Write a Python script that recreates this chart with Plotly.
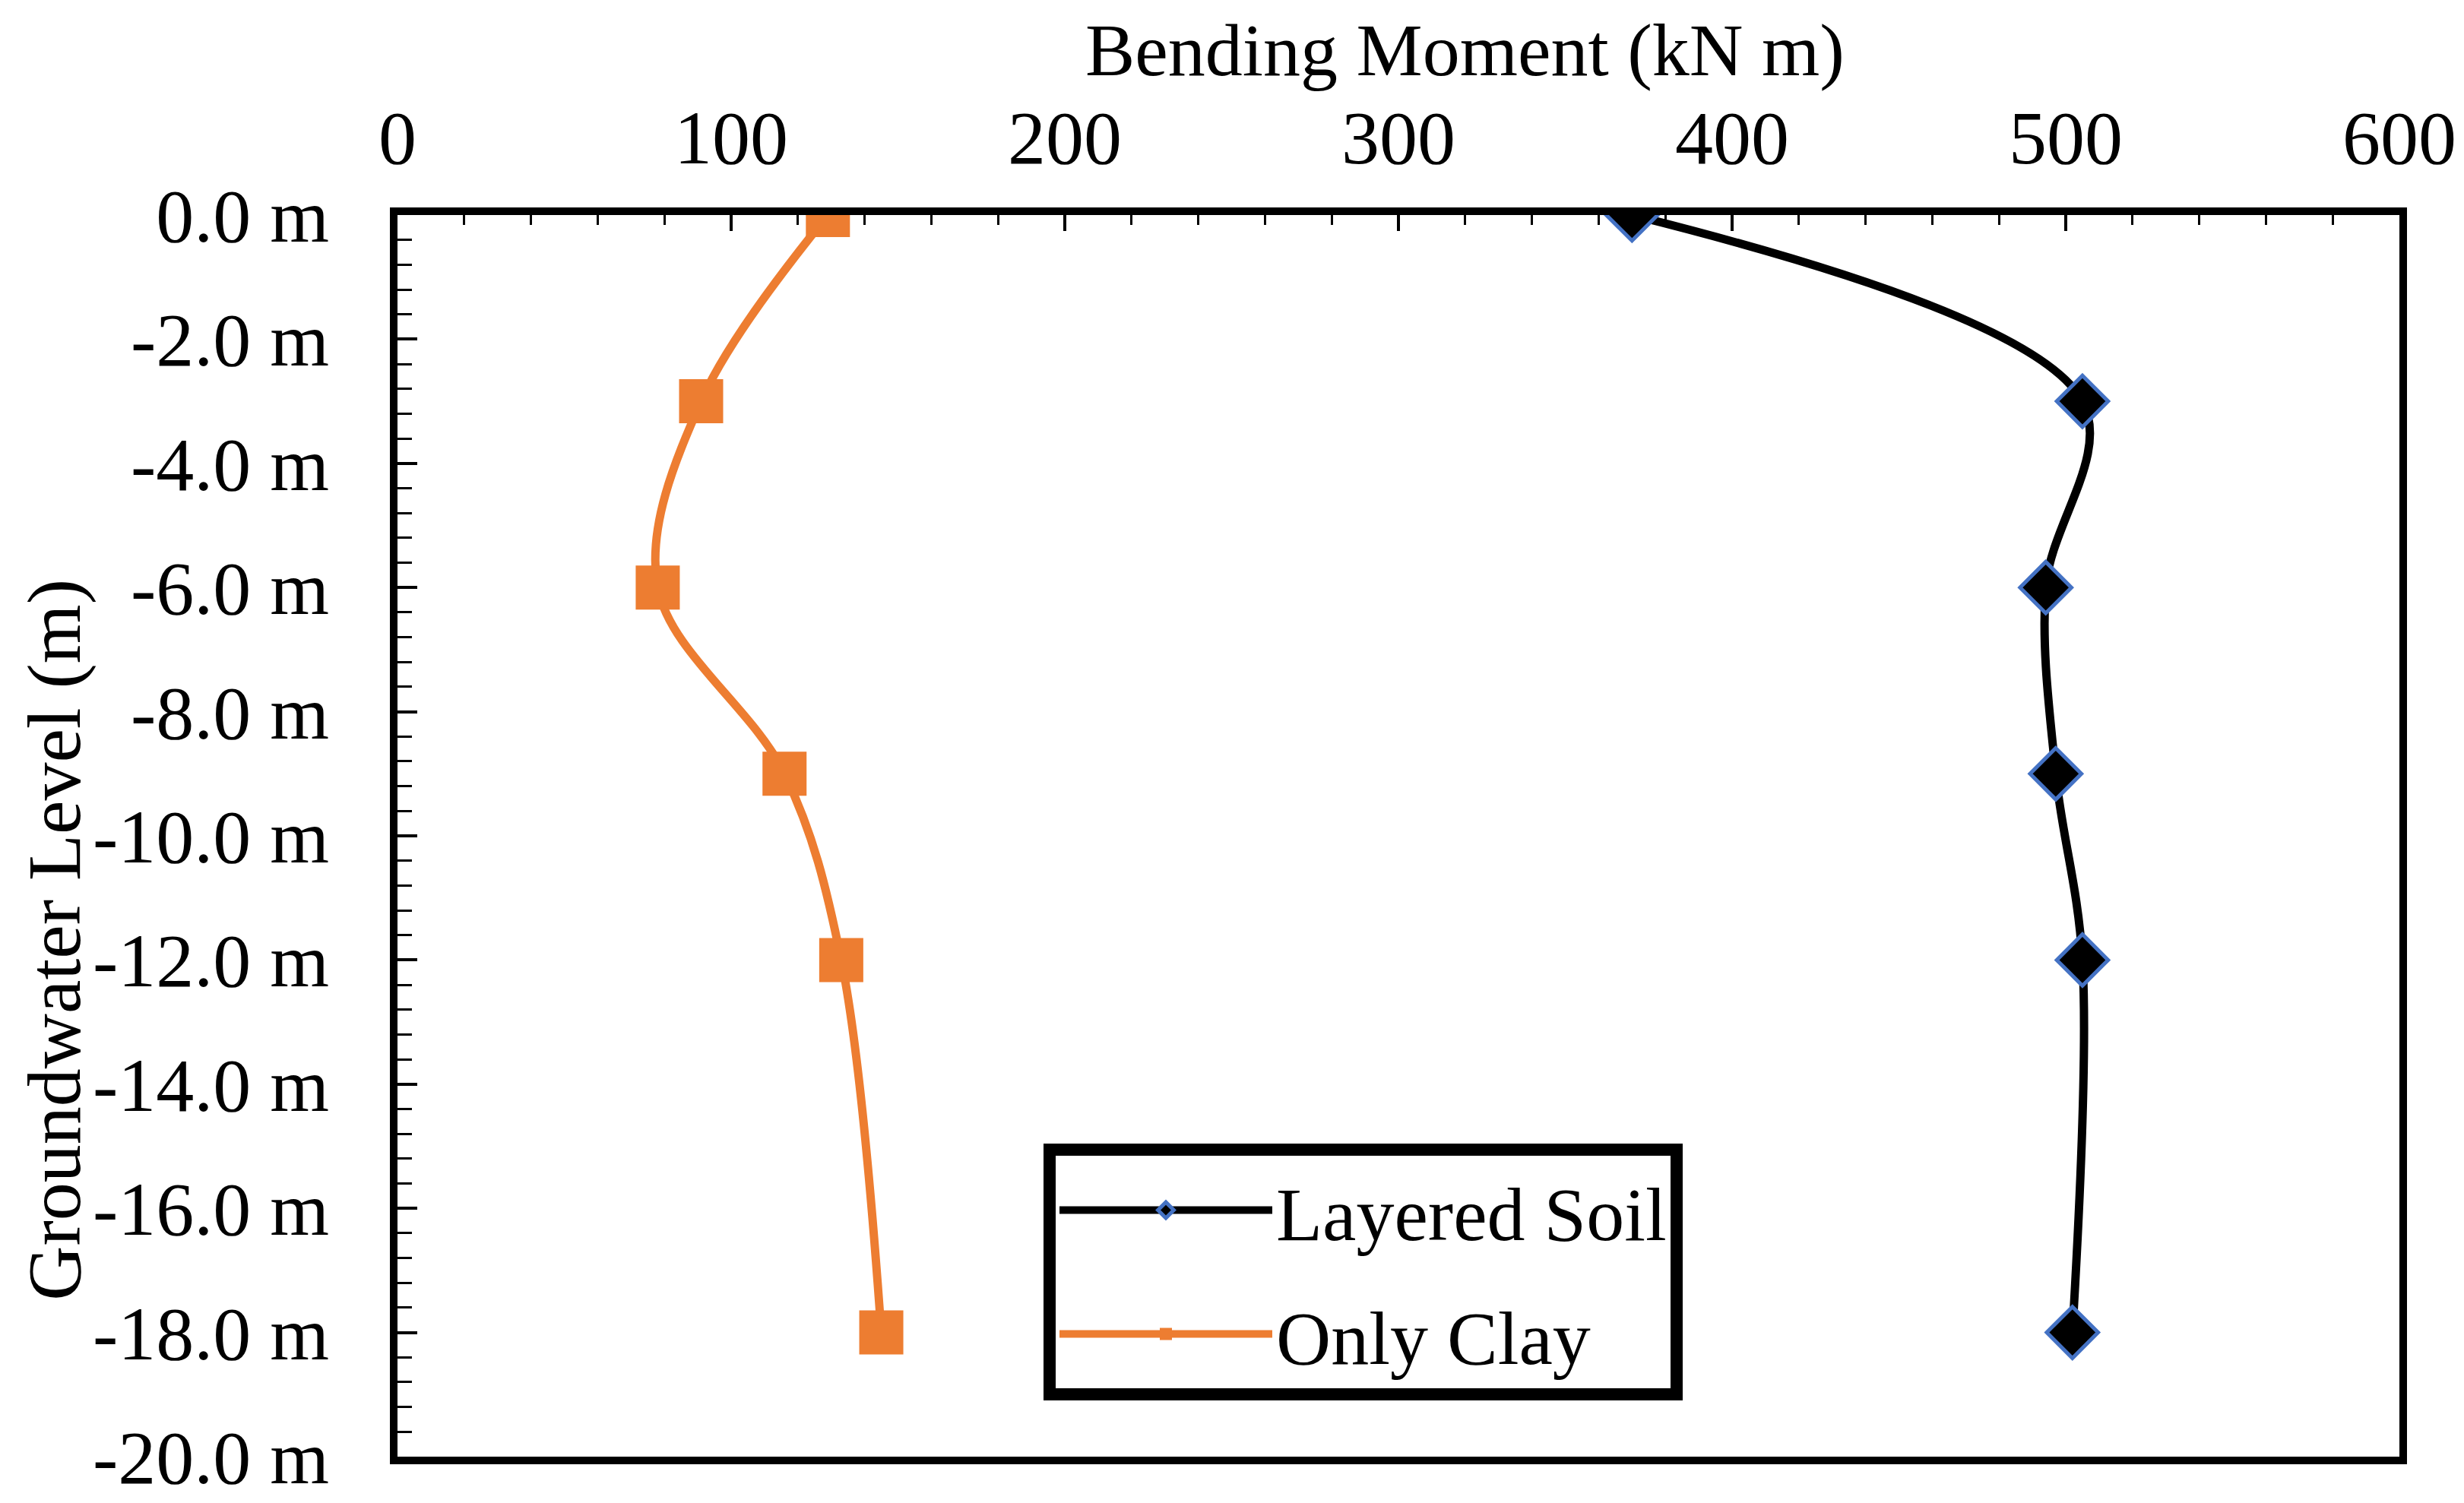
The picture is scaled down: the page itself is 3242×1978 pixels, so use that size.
import plotly.graph_objects as go

# Groundwater level (m) and bending moment (kN m)
depth = [0, -3, -6, -9, -12, -18]
layered_soil = [370, 505, 494, 497, 505, 502]
only_clay = [129, 91, 78, 116, 133, 145]

x_ticks = [0, 100, 200, 300, 400, 500, 600]
y_ticks = [0, -2, -4, -6, -8, -10, -12, -14, -16, -18, -20]
y_labels = ['%.1f m' % v for v in y_ticks]

FONT = 'Liberation Serif, Times New Roman, serif'
W, H = 3242, 1978
L, R, T, B = 515, 93, 275, 53
pw, ph = W - L - R, H - T - B


def px_to_paper(x_px, y_px):
    """Convert a pixel position on the page into paper coordinates."""
    return (x_px - L) / pw, (H - B - y_px) / ph


fig = go.Figure()
fig.add_trace(go.Scatter(
    x=layered_soil, y=depth, name='Layered Soil', mode='lines+markers',
    line=dict(color='black', width=11, shape='spline'),
    marker=dict(symbol='diamond', size=52, color='black',
                line=dict(color='#4472C4', width=5)),
    legendgroup='a',
))
fig.add_trace(go.Scatter(
    x=only_clay, y=depth, name='Only Clay', mode='lines+markers',
    line=dict(color='#ED7D31', width=11, shape='spline'),
    marker=dict(symbol='square', size=58, color='#ED7D31'),
    legendgroup='b',
))

fig.update_xaxes(
    side='top', range=[0, 600], tickvals=x_ticks,
    ticks='inside', ticklen=21, tickwidth=4, tickcolor='black',
    minor=dict(dtick=20, ticks='inside', ticklen=13, tickwidth=3, tickcolor='black'),
    showline=True, linecolor='black', linewidth=10, mirror=True,
    showgrid=False, zeroline=False, ticklabelstandoff=18,
    tickfont=dict(family=FONT, size=100, color='black'),
)
fig.update_yaxes(
    range=[-20, 0], tickvals=y_ticks, ticktext=y_labels,
    ticks='inside', ticklen=26, tickwidth=4, tickcolor='black',
    minor=dict(dtick=0.4, ticks='inside', ticklen=19, tickwidth=3, tickcolor='black'),
    showline=True, linecolor='black', linewidth=10, mirror=True,
    showgrid=False, zeroline=False, ticklabelstandoff=60, ticklabeloverflow='allow',
    tickfont=dict(family=FONT, size=100, color='black'),
)

tx, ty = px_to_paper(1919, 56)
fig.add_annotation(text='Bending Moment (kN m)', xref='paper', yref='paper',
                   x=tx, y=ty, xanchor='center', yanchor='middle',
                   showarrow=False, font=dict(family=FONT, size=98, color='black'))
tx, ty = px_to_paper(64, 1238)
fig.add_annotation(text='Groundwater Level (m)', xref='paper', yref='paper',
                   x=tx, y=ty, xanchor='center', yanchor='middle', textangle=-90,
                   showarrow=False, font=dict(family=FONT, size=100, color='black'))

lx, ly = px_to_paper(1365, 1509)
fig.update_layout(
    width=W, height=H, margin=dict(l=L, r=R, t=T, b=B),
    paper_bgcolor='white', plot_bgcolor='white',
    showlegend=True,
    legend=dict(x=lx, y=ly, xanchor='left', yanchor='top',
                bgcolor='white', bordercolor='black', borderwidth=16,
                font=dict(family=FONT, size=100, color='black'),
                itemwidth=280, tracegroupgap=30),
)

fig.write_html('out.html')
